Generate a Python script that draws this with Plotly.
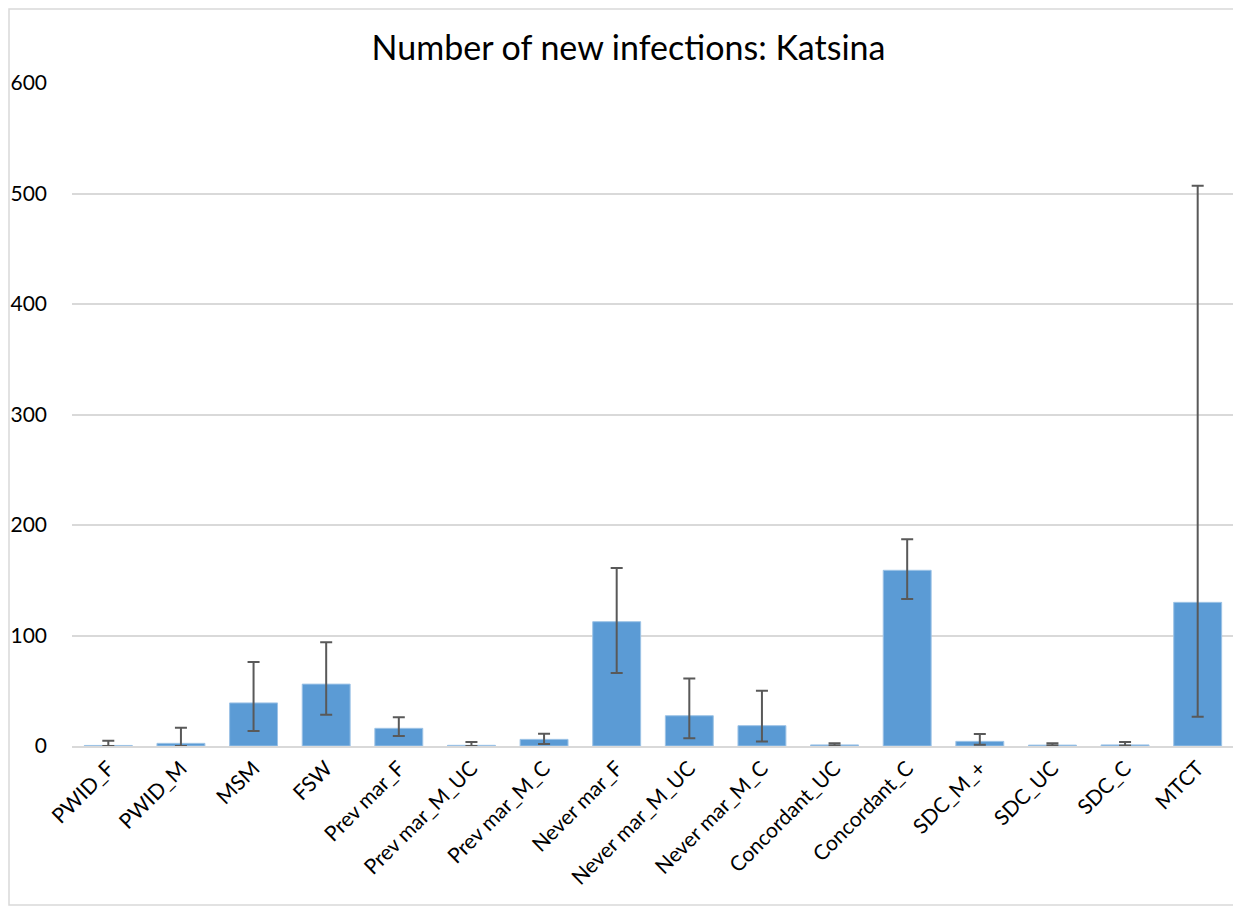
import plotly.graph_objects as go

categories = ["PWID_F", "PWID_M", "MSM", "FSW", "Prev mar_F", "Prev mar_M_UC",
              "Prev mar_M_C", "Never mar_F", "Never mar_M_UC", "Never mar_M_C",
              "Concordant_UC", "Concordant_C", "SDC_M_+", "SDC_UC", "SDC_C", "MTCT"]
values = [0.5, 2.4, 39, 56, 16, 0.6, 6, 112.5, 27.4, 18.4, 1, 159, 4.2, 0.8, 1, 130]
upper = [4.8, 16.6, 76, 94, 26, 3.6, 11, 161, 61, 50, 2.4, 187, 10.9, 2.4, 3.6, 507]
lower = [0, 0, 13.6, 28.3, 9, 0, 1.8, 66, 7, 4, 0.5, 133, 1.2, 0.5, 0.5, 26.5]

err_plus = [u - v for u, v in zip(upper, values)]
err_minus = [v - l for v, l in zip(values, lower)]

fig = go.Figure(go.Bar(
    x=categories, y=values,
    marker=dict(color="#5B9BD5", line=dict(color="#9DC3E6", width=1)),
    error_y=dict(type="data", symmetric=False, array=err_plus, arrayminus=err_minus,
                 color="#595959", thickness=2, width=6),
))

# plot area in figure px: x 64..1226, y 75..738
fig.update_layout(
    width=1241, height=909,
    paper_bgcolor="white", plot_bgcolor="white",
    margin=dict(l=64, r=15, t=75, b=171),
    title=dict(text="Number of new infections: Katsina", x=0.5, xanchor="center",
               y=0.956, yanchor="middle",
               font=dict(family="Lato, Open Sans, sans-serif", size=34, color="#000000")),
    font=dict(family="Lato, Open Sans, sans-serif", size=21, color="#000000"),
    bargap=0.34,
    showlegend=False,
    shapes=[dict(type="rect", xref="paper", yref="paper",
                 x0=-63 / 1162, x1=1166 / 1162, y0=-159 / 663, y1=737 / 663,
                 line=dict(color="#D9D9D9", width=1.5), fillcolor="rgba(0,0,0,0)",
                 layer="below")],
)
fig.update_yaxes(range=[0, 600], dtick=100, showgrid=True, gridcolor="#D9D9D9",
                 gridwidth=1.5, zeroline=False, showline=False, ticklabelstandoff=24,
                 tickfont=dict(size=21), automargin=False)
fig.update_xaxes(tickangle=-45, showline=True, linecolor="#D9D9D9", linewidth=1.5,
                 ticks="", tickfont=dict(size=21), automargin=False)

fig.write_html("out.html")
